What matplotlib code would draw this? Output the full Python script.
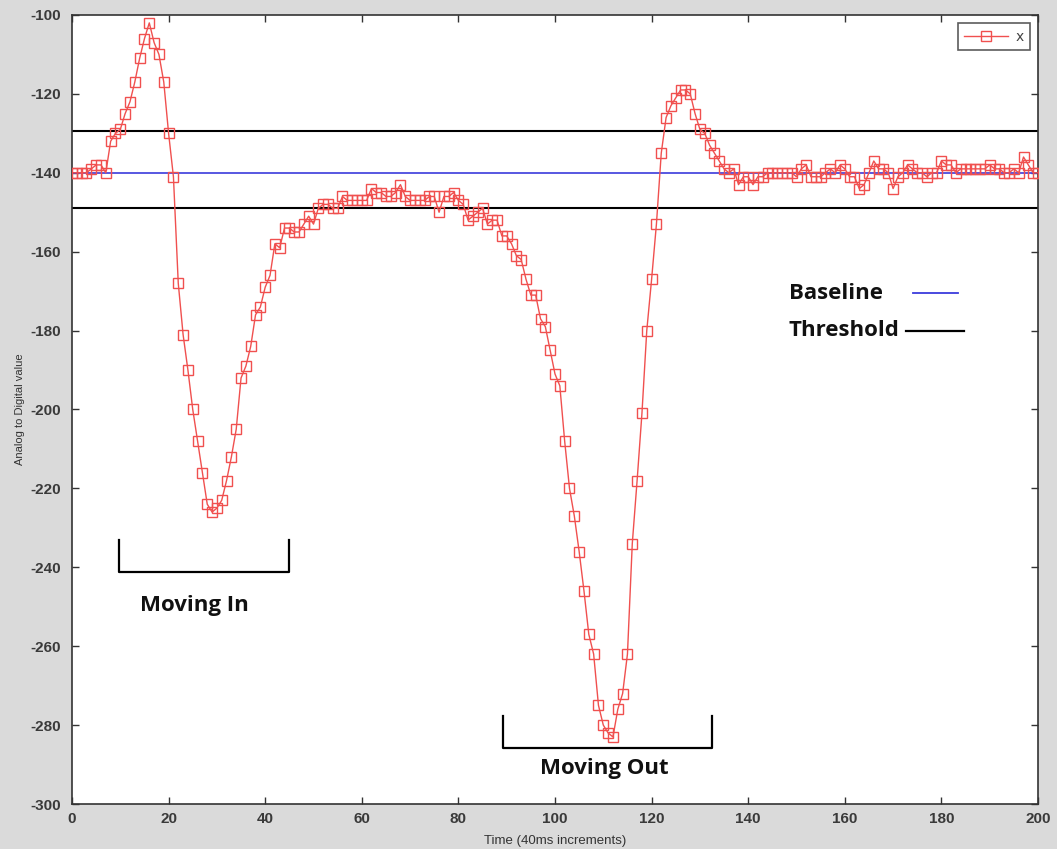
import matplotlib
matplotlib.use("Agg")
import matplotlib.pyplot as plt
import numpy as np

plt.rcParams["axes.unicode_minus"] = False

# ---- data ----
time_idx = list(range(0, 201))
adc_values = [
    -140, -140, -140, -140, -139, -138, -138, -140, -132, -130,   # 0-9
    -129, -125, -122, -117, -111, -106, -102, -107, -110, -117,   # 10-19
    -130, -141, -168, -181, -190, -200, -208, -216, -224, -226,   # 20-29
    -225, -223, -218, -212, -205, -192, -189, -184, -176, -174,   # 30-39
    -169, -166, -158, -159, -154, -154, -155, -155, -153, -151,   # 40-49
    -153, -149, -148, -148, -149, -149, -146, -147, -147, -147,   # 50-59
    -147, -147, -144, -145, -145, -146, -146, -145, -143, -146,   # 60-69
    -147, -147, -147, -147, -146, -146, -150, -146, -146, -145,   # 70-79
    -147, -148, -152, -151, -150, -149, -153, -152, -152, -156,   # 80-89
    -156, -158, -161, -162, -167, -171, -171, -177, -179, -185,   # 90-99
    -191, -194, -208, -220, -227, -236, -246, -257, -262, -275,   # 100-109
    -280, -282, -283, -276, -272, -262, -234, -218, -201, -180,   # 110-119
    -167, -153, -135, -126, -123, -121, -119, -119, -120, -125,   # 120-129
    -129, -130, -133, -135, -137, -139, -140, -139, -143, -141,   # 130-139
    -141, -143, -141, -141, -140, -140, -140, -140, -140, -140,   # 140-149
    -141, -139, -138, -141, -141, -141, -140, -139, -140, -138,   # 150-159
    -139, -141, -141, -144, -143, -140, -137, -139, -139, -140,   # 160-169
    -144, -141, -140, -138, -139, -140, -140, -141, -140, -140,   # 170-179
    -137, -138, -138, -140, -139, -139, -139, -139, -139, -139,   # 180-189
    -138, -139, -139, -140, -140, -139, -140, -136, -138, -140,   # 190-199
    -140,                                                         # 200
]
baseline_value = -140
threshold_values = [-129.5, -149]

x_ticks = [0, 20, 40, 60, 80, 100, 120, 140, 160, 180, 200]
y_ticks = [-300, -280, -260, -240, -220, -200, -180, -160, -140, -120, -100]

legend_label = "x"
x_label = "Time (40ms increments)"
y_label = "Analog to Digital value"

# ---- figure ----
W, H = 1057, 849
fig = plt.figure(figsize=(W / 100, H / 100), dpi=100, facecolor="#dadada")
ax = fig.add_axes([72 / W, 1 - 804 / H, (1038 - 72) / W, (804 - 15) / H])
ax.set_facecolor("white")

red = "#f0504f"
ax.plot(time_idx, adc_values, color=red, lw=1.0, marker="s", ms=6.8,
        mfc="none", mec=red, mew=1.0, label=legend_label, zorder=3)

ax.axhline(baseline_value, color="#3b3bdc", lw=1.2, zorder=2)
for t in threshold_values:
    ax.axhline(t, color="black", lw=1.5, zorder=2)

ax.set_xlim(0, 200)
ax.set_ylim(-300, -100)
ax.set_xticks(x_ticks)
ax.set_yticks(y_ticks)

ax.tick_params(direction="in", length=5, width=1, top=True, right=True,
               colors="#333333", labelcolor="#3a3a3a", pad=8)
for lab in ax.get_xticklabels() + ax.get_yticklabels():
    lab.set_fontfamily("Liberation Sans")
    lab.set_fontweight("bold")
    lab.set_fontsize(11)
ax.tick_params(axis="x", pad=6)
for s in ax.spines.values():
    s.set_color("#333333")
    s.set_linewidth(1.2)

ax.set_xlabel(x_label, fontsize=9.5, color="#333333", family="Liberation Sans",
              labelpad=6)
ax.set_ylabel(y_label, fontsize=8, color="#333333", family="Liberation Sans",
              labelpad=4)

leg = ax.legend(loc="upper right", fontsize=10, frameon=True, fancybox=False,
                handlelength=3.2, borderpad=0.45, handletextpad=0.5,
                borderaxespad=0.6)
leg.get_frame().set_edgecolor("#333333")
leg.get_frame().set_linewidth(1.2)
for t in leg.get_texts():
    t.set_color("#444444")

# ---- annotations ----
ann_font = dict(family="Open Sans", weight="bold", size=16, color="#111111")
ax.text(148.4, -170.5, "Baseline", ha="left", va="center", **ann_font)
ax.plot([174.1, 183.4], [-170.5, -170.5], color="#3b3bdc", lw=1.3)
ax.text(148.4, -180.1, "Threshold", ha="left", va="center", **ann_font)
ax.plot([172.6, 184.7], [-180.1, -180.1], color="black", lw=1.6)

# Moving In bracket
ax.plot([9.7, 9.7, 45.0, 45.0], [-233.1, -241.2, -241.2, -233.1],
        color="black", lw=1.6)
ax.text(25.3, -249.8, "Moving In", ha="center", va="center", **ann_font)
# Moving Out bracket
ax.plot([89.3, 89.3, 132.6, 132.6], [-277.7, -285.8, -285.8, -277.7],
        color="black", lw=1.6)
ax.text(110.2, -290.9, "Moving Out", ha="center", va="center", **ann_font)

fig.savefig("out.png", dpi=100, facecolor=fig.get_facecolor())
